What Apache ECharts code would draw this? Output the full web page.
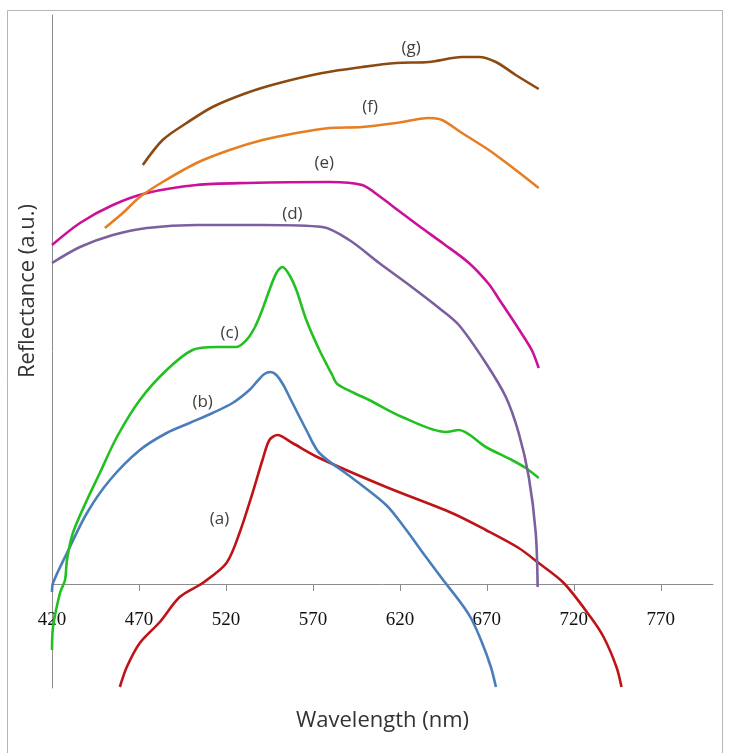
<!DOCTYPE html>
<html>
<head>
<meta charset="utf-8">
<script src="https://cdn.jsdelivr.net/npm/echarts@6/dist/echarts.min.js"></script>
<style>
  html, body { margin: 0; padding: 0; background: #fff; }
  #main { width: 730px; height: 753px; }
</style>
</head>
<body>
<div id="main"></div>
<script>
// wavelength (nm) and reflectance (a.u.), one pair of arrays per curve
var waveA = [459, 463, 470.5, 482, 493.4, 506.6, 520.3, 527.8, 535.3, 541, 545, 549.6, 558.2, 573.7, 612.1, 649.9, 669.4, 688.3, 699.8, 714.2, 729.6, 737.1, 744.5, 747.4];
var reflA = [-1.03, -0.83, -0.59, -0.38, -0.13, 0.01, 0.21, 0.51, 0.91, 1.24, 1.44, 1.49, 1.41, 1.26, 0.97, 0.71, 0.54, 0.36, 0.21, 0.01, -0.33, -0.53, -0.83, -1.03];

var waveB = [420, 420.6, 428.6, 440.1, 453.3, 470.5, 485.9, 499.1, 512.3, 523.8, 533.5, 538.1, 542.1, 545.6, 549, 553, 556.5, 566.2, 573.7, 592.6, 612.1, 622.4, 635, 645.3, 655.1, 660.8, 666.6, 672.3, 675.2];
var reflB = [-0.08, 0.01, 0.31, 0.71, 1.04, 1.34, 1.51, 1.61, 1.71, 1.81, 1.94, 2.03, 2.10, 2.12, 2.09, 1.99, 1.87, 1.54, 1.31, 1.06, 0.79, 0.57, 0.27, 0.03, -0.19, -0.34, -0.56, -0.83, -1.03];

var waveC = [420, 420.6, 424.6, 427.5, 428.6, 432, 440.1, 447.5, 457.3, 470.5, 485.9, 500.8, 514.6, 526.1, 531.8, 536.4, 540.4, 545, 549, 552.5, 556.5, 560.5, 566.2, 573.7, 581.1, 584, 593.7, 602.3, 621.3, 646.5, 653.9, 669.4, 684.3, 692.4, 699.8];
var reflC = [-0.66, -0.43, -0.09, 0.04, 0.24, 0.51, 0.84, 1.11, 1.47, 1.84, 2.14, 2.34, 2.37, 2.37, 2.44, 2.56, 2.72, 2.94, 3.11, 3.17, 3.09, 2.94, 2.64, 2.34, 2.09, 2.00, 1.91, 1.84, 1.67, 1.52, 1.54, 1.37, 1.24, 1.16, 1.06];

var waveD = [420, 436.1, 455, 474.5, 503.1, 541, 575.4, 590.9, 608.1, 625.3, 642.5, 653.9, 669.4, 680.9, 688.3, 694.1, 698.1, 699.2];
var reflD = [3.21, 3.37, 3.49, 3.56, 3.59, 3.59, 3.57, 3.44, 3.21, 2.99, 2.76, 2.59, 2.21, 1.87, 1.51, 1.07, 0.51, -0.03];

var waveE = [420, 436.1, 455, 474.5, 503.1, 531.8, 579.4, 598.3, 608.1, 619.5, 631, 645.3, 659.7, 671.1, 676.9, 688.3, 695.8, 699.8];
var reflE = [3.39, 3.61, 3.79, 3.91, 3.99, 4.01, 4.02, 3.99, 3.88, 3.73, 3.58, 3.40, 3.21, 3.00, 2.85, 2.55, 2.34, 2.16];

var waveF = [450.4, 460.7, 470.5, 483.6, 503.1, 522.1, 541, 560.5, 579.4, 598.3, 617.8, 636.7, 644.2, 655.7, 671.1, 686.6, 699.8];
var reflF = [3.56, 3.71, 3.87, 4.02, 4.21, 4.34, 4.44, 4.51, 4.56, 4.57, 4.61, 4.66, 4.64, 4.51, 4.34, 4.14, 3.96];

var waveG = [472.2, 483.6, 497.4, 512.3, 531.8, 550.7, 575.4, 598.3, 617.8, 636.7, 655.7, 665.4, 675.2, 686.6, 699.8];
var reflG = [4.19, 4.44, 4.61, 4.77, 4.91, 5.01, 5.11, 5.17, 5.21, 5.22, 5.27, 5.27, 5.22, 5.09, 4.95];

var curveNames = ['(a)', '(b)', '(c)', '(d)', '(e)', '(f)', '(g)'];
var curveColors = ['#BE1418', '#4A7EBB', '#22C020', '#7B5F9E', '#CC1199', '#E67E22', '#8C4A12'];
// where each curve's tag sits, in wavelength / reflectance
var tagWave = [516.3, 506.6, 522.1, 558.2, 576.5, 602.9, 626.4];
var tagRefl = [0.65, 1.82, 2.51, 3.70, 4.21, 4.77, 5.36];

var xTicks = [420, 470, 520, 570, 620, 670, 720, 770];

var waves = [waveA, waveB, waveC, waveD, waveE, waveF, waveG];
var refls = [reflA, reflB, reflC, reflD, reflE, reflF, reflG];

function zip(xs, ys) {
  var out = [];
  for (var i = 0; i < xs.length; i++) out.push([xs[i], ys[i]]);
  return out;
}

var series = [];
for (var i = 0; i < curveNames.length; i++) {
  series.push({
    name: curveNames[i],
    type: 'line',
    data: zip(waves[i], refls[i]),
    showSymbol: false,
    smooth: 0.3,
    lineStyle: { color: curveColors[i], width: 2.6 },
    itemStyle: { color: curveColors[i] },
    z: 3,
    markPoint: {
      symbol: 'circle',
      symbolSize: 0,
      silent: true,
      label: {
        show: true,
        position: 'inside',
        formatter: curveNames[i],
        color: '#404040',
        fontSize: 17,
        fontFamily: 'Open Sans'
      },
      data: [{ coord: [tagWave[i], tagRefl[i]] }]
    }
  });
}

var chart = echarts.init(document.getElementById('main'));
chart.setOption({
  animation: false,
  backgroundColor: '#fff',
  grid: { left: 52, right: 17, top: 15, bottom: 65, containLabel: false, outerBoundsMode: 'none' },
  xAxis: {
    type: 'value',
    min: 420,
    max: 800,
    interval: 50,
    axisLine: { show: true, onZero: true, lineStyle: { color: '#8c8c8c', width: 1 } },
    axisTick: { show: true, length: 7, lineStyle: { color: '#8c8c8c' } },
    splitLine: { show: false },
    axisLabel: {
      // labels sit just under the zero line, not at the grid bottom
      margin: -77,
      showMaxLabel: false,
      color: '#111',
      fontSize: 19,
      fontFamily: 'Liberation Serif',
      formatter: function (v) { return xTicks.indexOf(v) > -1 ? String(v) : ''; }
    },
    name: 'Wavelength (nm)',
    nameLocation: 'middle',
    nameGap: 22,
    nameTextStyle: { color: '#333', fontSize: 22, fontFamily: 'Open Sans' }
  },
  yAxis: {
    type: 'value',
    min: -1.04,
    max: 5.69,
    axisLine: { show: true, onZero: false, lineStyle: { color: '#8c8c8c', width: 1 } },
    axisTick: { show: false },
    axisLabel: { show: false },
    splitLine: { show: false }
  },
  graphic: [
    {
      type: 'rect',
      shape: { x: 7.5, y: 10.5, width: 715, height: 760 },
      style: { fill: 'none', stroke: '#b5b5b5', lineWidth: 1 },
      silent: true
    },
    {
      type: 'text',
      x: 28,
      y: 291,
      rotation: Math.PI / 2,
      style: {
        text: 'Reflectance (a.u.)',
        fill: '#333',
        font: '22px "Open Sans"',
        textAlign: 'center',
        textVerticalAlign: 'middle'
      }
    }
  ],
  series: series
});
</script>
</body>
</html>
